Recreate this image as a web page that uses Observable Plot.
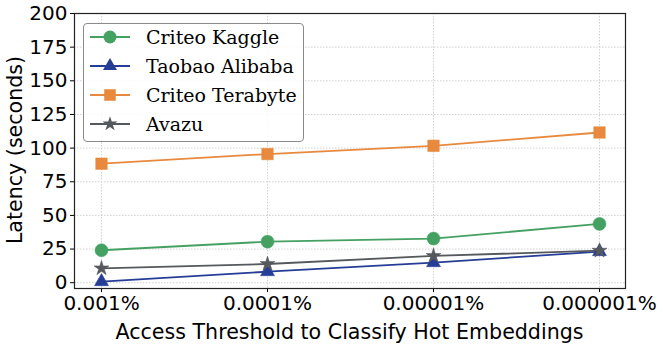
<!DOCTYPE html>
<html>
<head>
<meta charset="utf-8">
<script src="https://cdn.jsdelivr.net/npm/d3@7"></script>
<script src="https://cdn.jsdelivr.net/npm/@observablehq/plot@0.6"></script>
<style>
  html, body { margin: 0; padding: 0; background: white; }
  #wrap { position: relative; width: 665px; height: 348px; font-family: "DejaVu Sans", sans-serif; }
  #legend {
    position: absolute; left: 83px; top: 23px; width: 219px; height: 117px;
    border: 1px solid #8a8a8a; border-radius: 4px; background: rgba(255,255,255,0.85);
    font-family: "DejaVu Serif", serif; font-size: 19px; color: #000;
  }
  .row { position: absolute; left: 6px; height: 29px; display: flex; align-items: center; }
  .row svg { display: block; }
  .row span { margin-left: 14px; white-space: nowrap; }
  #xlabel { position: absolute; left: 0; width: 700px; text-align: center; top: 319px; font-size: 20.6px; line-height: 26px; white-space: nowrap; }
  #ylabel { position: absolute; left: 15px; top: 150px; font-size: 20.6px; line-height: 26px; white-space: nowrap;
            transform: translate(-50%, -50%) rotate(-90deg); }
</style>
</head>
<body>
<div id="wrap"><div id="chart"></div><div id="legend"></div>
<div id="xlabel">Access Threshold to Classify Hot Embeddings</div>
<div id="ylabel">Latency (seconds)</div></div>
<script>
const thresholds = ["0.001%", "0.0001%", "0.00001%", "0.000001%"];
const seriesNames = ["Criteo Kaggle", "Taobao Alibaba", "Criteo Terabyte", "Avazu"];
const criteoKaggle = [24.1, 30.5, 32.8, 43.7];
const taobaoAlibaba = [0.8, 8.2, 14.9, 23.1];
const criteoTerabyte = [88.4, 95.6, 101.7, 111.6];
const avazu = [10.7, 13.9, 19.9, 23.8];
const yTicks = [0, 25, 50, 75, 100, 125, 150, 175, 200];

const colors = ["#45a162", "#263d98", "#e8893d", "#55585c"];
const symbols = ["circle", "triangle", "square", "star"];
const radii = [6.5, 5.2, 6.5, 4.7];
const values = [criteoKaggle, taobaoAlibaba, criteoTerabyte, avazu];

const data = [];
seriesNames.forEach((s, i) => thresholds.forEach((t, j) => data.push({series: s, threshold: t, value: values[i][j]})));

// center x label under the frame
document.getElementById("xlabel").style.left = (74 + (665 - 74 - 40) / 2 - 350) + "px";

const marks = [
  Plot.gridX(thresholds, {stroke: "#cccccc", strokeOpacity: 1, strokeDasharray: "1.5,1.5", strokeWidth: 0.9}),
  Plot.gridY(yTicks, {stroke: "#cccccc", strokeOpacity: 1, strokeDasharray: "1.5,1.5", strokeWidth: 0.9}),
  Plot.axisX({tickSize: 4, tickPadding: 3, fontSize: 20, label: null, fill: "#000", stroke: "#000"}),
  Plot.axisY(yTicks, {tickSize: 4, tickPadding: 3, fontSize: 20, label: null, fill: "#000", stroke: "#000"}),
];
seriesNames.forEach((s, i) => {
  const d = data.filter(r => r.series === s);
  marks.push(Plot.line(d, {x: "threshold", y: "value", stroke: colors[i], strokeWidth: 1.8}));
});
seriesNames.forEach((s, i) => {
  const d = data.filter(r => r.series === s);
  marks.push(Plot.dot(d, {x: "threshold", y: "value", fill: colors[i], stroke: colors[i], strokeOpacity: 0.5, strokeWidth: 1, symbol: symbols[i], r: radii[i]}));
});
marks.push(Plot.frame({stroke: "#222", strokeWidth: 1.2}));

const chart = Plot.plot({
  width: 665, height: 348,
  marginLeft: 74, marginRight: 40, marginTop: 13, marginBottom: 60,
  style: {fontFamily: "DejaVu Sans", fontSize: "20px", color: "#000", background: "white"},
  x: {type: "point", domain: thresholds, padding: 0.155},
  y: {domain: [-4.3, 200]},
  marks
});
document.getElementById("chart").appendChild(chart);

// legend
const legend = d3.select("#legend");
seriesNames.forEach((s, i) => {
  const row = legend.append("div").attr("class", "row").style("top", (-2 + 29 * i) + "px");
  const svg = row.append("svg").attr("width", 42).attr("height", 20);
  svg.append("line").attr("x1", 0).attr("x2", 40).attr("y1", 10).attr("y2", 10)
    .attr("stroke", colors[i]).attr("stroke-width", 1.8);
  const sym = {circle: d3.symbolCircle, triangle: d3.symbolTriangle, square: d3.symbolSquare, star: d3.symbolStar}[symbols[i]];
  svg.append("path").attr("transform", "translate(20,10)")
    .attr("d", d3.symbol(sym, Math.PI * radii[i] * radii[i])())
    .attr("fill", colors[i]);
  row.append("span").text(s);
});
</script>
</body>
</html>
